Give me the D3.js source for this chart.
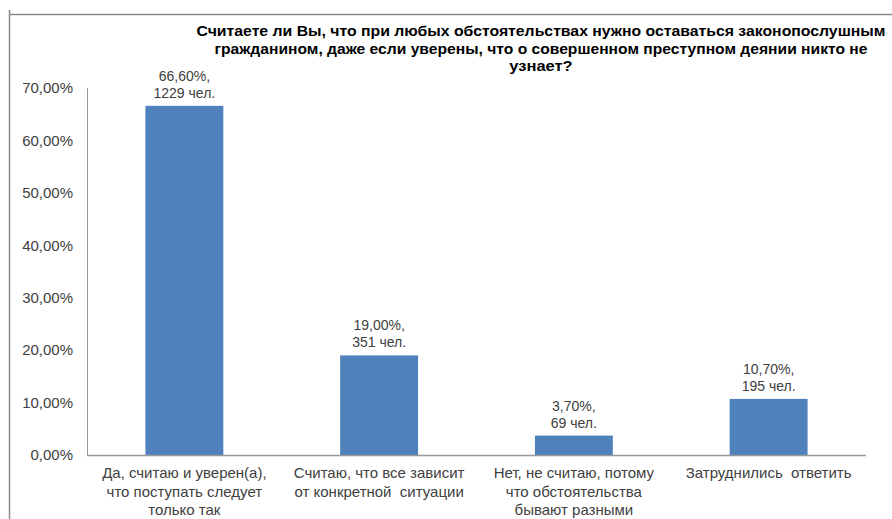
<!DOCTYPE html>
<html><head><meta charset="utf-8">
<script src="https://cdn.jsdelivr.net/npm/d3@7"></script>
<style>body{margin:0;background:#fff}svg{display:block}text{font-family:"Liberation Sans",Arial,sans-serif;white-space:pre}</style>
</head><body>
<svg id="c" width="892" height="519"></svg>
<script>
const categories = [
  ["Да, считаю и уверен(а),", "что поступать следует", "только так"],
  ["Считаю, что все зависит", "от конкретной  ситуации"],
  ["Нет, не считаю, потому", "что обстоятельства", "бывают разными"],
  ["Затруднились  ответить"]
];
const percents = [66.6, 19.0, 3.7, 10.7];
const counts = [1229, 351, 69, 195];
const yTicks = [0, 10, 20, 30, 40, 50, 60, 70];
const titleLines = [
  "Считаете ли Вы, что при любых обстоятельствах нужно оставаться законопослушным",
  "гражданином, даже если уверены, что о совершенном преступном деянии никто не",
  "узнает?"
];

const svg = d3.select("#c");
const x0 = 87, x1 = 866, yTop = 88, yBot = 455;
const x = d3.scaleBand().domain(d3.range(categories.length)).range([x0, x1]).paddingInner(0.6).paddingOuter(0.3);
const y = d3.scaleLinear().domain([0, 70]).range([yBot, yTop]);
const fmt = v => v.toFixed(2).replace(".", ",") + "%";

// outer frame lines
svg.append("line").attr("x1", 9.5).attr("x2", 892).attr("y1", 14.5).attr("y2", 14.5).attr("stroke", "#8a8a8a").attr("stroke-width", 1.5);
svg.append("line").attr("x1", 9.5).attr("x2", 9.5).attr("y1", 10).attr("y2", 519).attr("stroke", "#8a8a8a").attr("stroke-width", 1.5);

// title
const t = svg.append("g");
const titleWidths = [689, 653, null];
titleLines.forEach((l, i) => {
  const tx = t.append("text").attr("x", 541).attr("y", 36 + i * 17.5).attr("text-anchor", "middle")
    .attr("font-size", 15).attr("font-weight", "bold").attr("fill", "#000").text(l);
  if (titleWidths[i]) tx.attr("textLength", titleWidths[i]).attr("lengthAdjust", "spacingAndGlyphs");
  else {
    const w = tx.node().getComputedTextLength();
    tx.attr("textLength", w * 1.1).attr("lengthAdjust", "spacingAndGlyphs");
  }
});

// y axis
const ya = svg.append("g").attr("transform", `translate(${x0},0)`)
  .call(d3.axisLeft(y).tickValues(yTicks).tickSize(0).tickPadding(14).tickFormat(fmt));
ya.select(".domain").attr("stroke", "#999").attr("d", `M0.5,${yTop}V${yBot}`);
ya.selectAll("text").attr("font-size", 15).attr("fill", "#404040").attr("font-family", "Liberation Sans, Arial, sans-serif");

// bars
svg.append("g").selectAll("rect").data(percents).join("rect")
  .attr("x", (d, i) => x(i)).attr("width", x.bandwidth())
  .attr("y", d => y(d)).attr("height", d => yBot - y(d)).attr("fill", "#4f81bd");

// x axis
const xa = svg.append("g").attr("transform", `translate(0,${yBot})`)
  .call(d3.axisBottom(x).tickSize(0).tickFormat(""));
xa.select(".domain").attr("stroke", "#999").attr("stroke-width", 1.5).attr("d", `M${x0},0.5H${x1}`);

// category labels
categories.forEach((lines, i) => {
  const cx = x(i) + x.bandwidth() / 2;
  lines.forEach((l, j) => {
    svg.append("text").attr("x", cx).attr("y", 478 + j * 18.5).attr("text-anchor", "middle")
      .attr("font-size", 15).attr("fill", "#404040").text(l);
  });
});

// value labels
percents.forEach((p, i) => {
  const cx = x(i) + x.bandwidth() / 2;
  const top = y(p);
  svg.append("text").attr("x", cx).attr("y", top - 25).attr("text-anchor", "middle")
    .attr("font-size", 14).attr("fill", "#404040").text(fmt(p) + ",");
  svg.append("text").attr("x", cx).attr("y", top - 8).attr("text-anchor", "middle")
    .attr("font-size", 14).attr("fill", "#404040").text(counts[i] + " чел.");
});
</script>
</body></html>
